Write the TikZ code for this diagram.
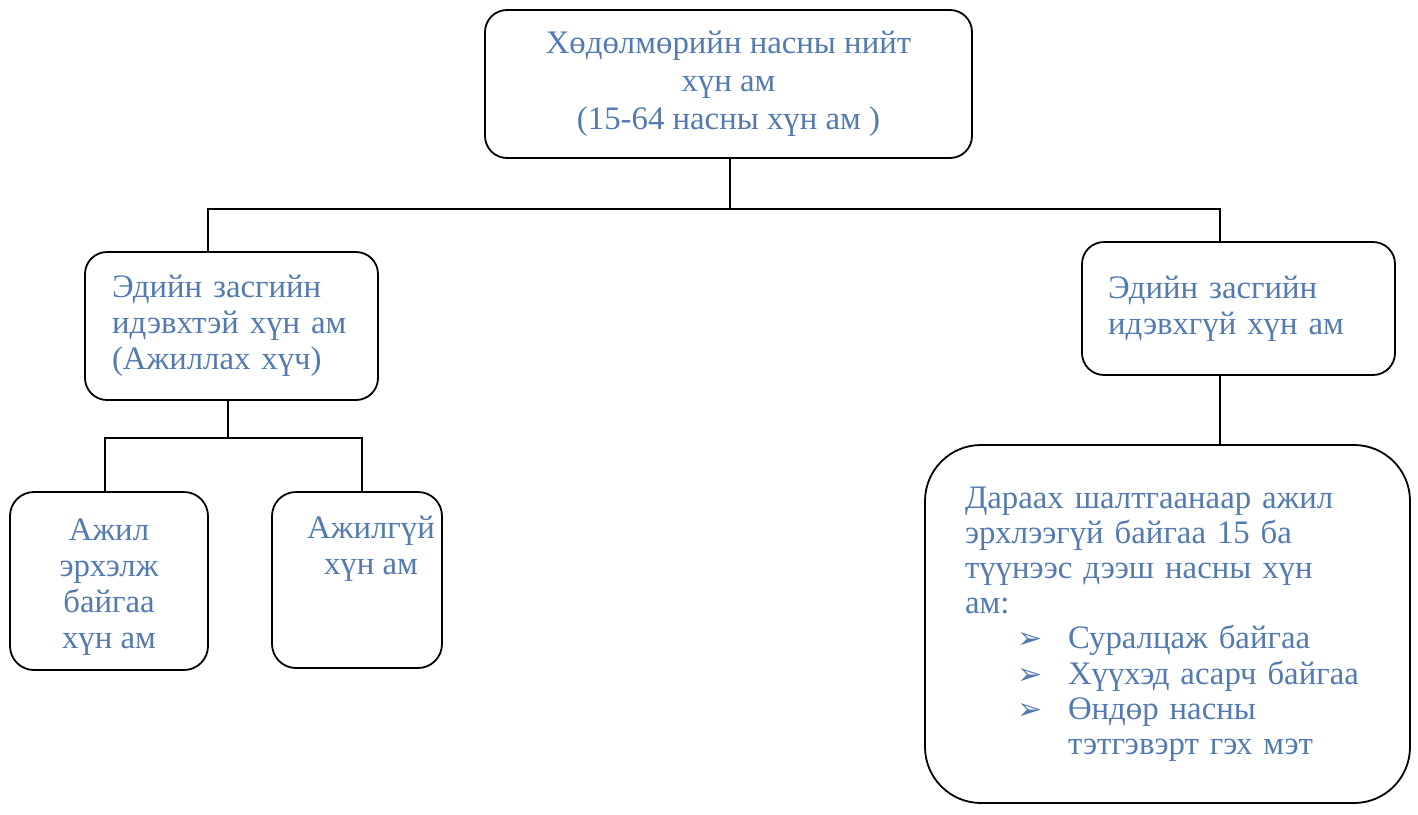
\documentclass[tikz,border=0pt]{standalone}
\usepackage{fontspec}
\setmainfont{Liberation Serif}
\newfontfamily\symfont{DejaVu Sans}
\definecolor{txtblue}{RGB}{84,122,178}
\newcommand{\bul}{{\symfont\fontsize{15pt}{15pt}\selectfont ➢}}
\begin{document}
\begin{tikzpicture}[x=0.5pt,y=-0.5pt,
  box/.style={draw=black, line width=0.9pt, rounded corners=11pt, fill=white,
    font=\fontsize{16.4pt}{18pt}\selectfont, text=txtblue, inner sep=0pt},
  conn/.style={draw=black, line width=0.9pt}]
\useasboundingbox (0,0) rectangle (1418,814);
\fill[white] (0,0) rectangle (1418,814);

\node[box, minimum width=243.5pt, minimum height=74pt, align=center,
  font=\fontsize{16.4pt}{19pt}\selectfont]
  (top) at (728.5,84) {Хөдөлмөрийн насны нийт\\хүн ам\\(15-64 насны хүн ам )};

\node[box, minimum width=146.5pt, minimum height=74pt, text width=119.5pt, align=left]
  (lmid) at (231.5,326) {Эдийн засгийн\\идэвхтэй хүн ам\\(Ажиллах хүч)};

\node[box, minimum width=156.5pt, minimum height=66.5pt, text width=130.5pt, align=left]
  (rmid) at (1238.5,308.5) {Эдийн засгийн\\идэвхгүй хүн ам};

\node[box, minimum width=99pt, minimum height=89pt, rounded corners=12pt, align=center]
  (lbot) at (109,581) {};
\node[font=\fontsize{16.4pt}{18pt}\selectfont, text=txtblue, align=center, inner sep=0pt]
  (lbottxt) at (109,587) {Ажил\\эрхэлж\\байгаа\\хүн ам};

\node[box, minimum width=85pt, minimum height=88pt, rounded corners=12pt]
  (mbot) at (357,580) {};
\node[font=\fontsize{16.4pt}{18pt}\selectfont, text=txtblue, align=center, anchor=north, inner sep=0pt]
  (mbottxt) at (371,516) {Ажилгүй\\хүн ам};

\node[box, minimum width=242.5pt, minimum height=179pt, rounded corners=28pt,
  text width=202.5pt, align=left, font=\fontsize{16.4pt}{17.6pt}\selectfont]
  (rbot) at (1167.5,624) {Дараах шалтгаанаар ажил\\эрхлээгүй байгаа 15 ба\\түүнээс дээш насны хүн\\ам:\\
  \makebox[51.5pt][l]{\hspace*{26pt}\bul}Суралцаж байгаа\\
  \makebox[51.5pt][l]{\hspace*{26pt}\bul}Хүүхэд асарч байгаа\\
  \makebox[51.5pt][l]{\hspace*{26pt}\bul}Өндөр насны\\
  \hspace*{51.5pt}тэтгэвэрт гэх мэт};

\coordinate (tx) at (730,0);
\coordinate (mx) at (228,0);
\coordinate (rx) at (1220,0);
\coordinate (lx) at (208,0);
\coordinate (bx1) at (105,0);
\coordinate (bx2) at (362,0);

\draw[conn] (tx |- top.south) -- ++(0,50) coordinate (hub) -| (rx |- rmid.north);
\draw[conn] (hub) -| (lx |- lmid.north);
\draw[conn] (rx |- rmid.south) -- (rx |- rbot.north);
\draw[conn] (mx |- lmid.south) -- ++(0,37) coordinate (hub2) -| (bx1 |- lbot.north);
\draw[conn] (hub2) -| (bx2 |- mbot.north);
\end{tikzpicture}
\end{document}
